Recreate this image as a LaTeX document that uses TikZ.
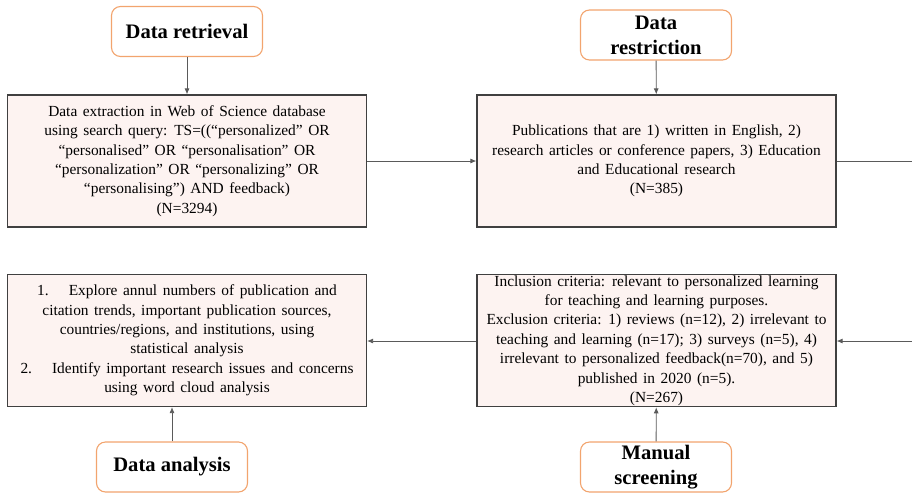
\documentclass[tikz,border=0pt]{standalone}
\usepackage{fontspec}
\setmainfont{Liberation Serif}
\usetikzlibrary{arrows.meta}
\definecolor{boxfill}{HTML}{FDF3F1}
\definecolor{boxline}{HTML}{404040}
\definecolor{stageline}{HTML}{F2A46E}
\definecolor{linkline}{HTML}{5A5A5A}
\newcommand\boxfont{\fontsize{15.4}{19.4}\selectfont
  \spaceskip=0.36em plus 0.1em minus 0.05em\relax}
\tikzset{
  stagebox/.style={draw=stageline,line width=1.1pt,rounded corners=9pt,fill=white,
    minimum width=151pt,minimum height=50pt,align=center,inner sep=2pt,
    font=\fontsize{20.6}{25}\selectfont\bfseries},
  infobox/.style={draw=boxline,line width=1.2pt,fill=boxfill,
    minimum width=359pt,minimum height=132pt,align=center,inner sep=1pt,
    font=\boxfont},
  link/.style={draw=linkline,line width=0.8pt,-{Latex[length=6pt,width=5pt]}}
}
\begin{document}
\begin{tikzpicture}[x=1pt,y=-1pt]
  \useasboundingbox (0,0) rectangle (912,493);
  \draw
    (187,31.5) node[stagebox] (retrieval){Data retrieval}
    (656,35) node[stagebox] (restriction){Data\\restriction}
    (172,467) node[stagebox] (analysis){Data analysis}
    (656,467) node[stagebox] (screening){Manual\\screening};
  \draw
    (187,161) node[infobox] (extract){Data extraction in Web of Science database\\
      using search query: TS=((“personalized” OR\\
      “personalised” OR “personalisation” OR\\
      “personalization” OR “personalizing” OR\\
      “personalising”) AND feedback)\\
      (N=3294)}
    (656.5,161) node[infobox] (restrict){Publications that are 1) written in English, 2)\\
      research articles or conference papers, 3) Education\\
      and Educational research\\
      (N=385)}
    (656.5,340.5) node[infobox] (screen){Inclusion criteria: relevant to personalized learning\\
      for teaching and learning purposes.\\
      Exclusion criteria: 1) reviews (n=12), 2) irrelevant to\\
      teaching and learning (n=17); 3) surveys (n=5), 4)\\
      irrelevant to personalized feedback(n=70), and 5)\\
      published in 2020 (n=5).\\
      (N=267)}
    (187,340.5) node[infobox] (analyse){1.\hspace{1.3em}Explore annul numbers of publication and\\
      citation trends, important publication sources,\\
      countries/regions, and institutions, using\\
      statistical analysis\\
      2.\hspace{1.3em}Identify important research issues and concerns\\
      using word cloud analysis};
  \coordinate (edgetop) at (912,161);
  \coordinate (edgebot) at (912,341);
  \begin{scope}[link]
    \draw (retrieval) -- (extract);
    \draw (restriction) -- (restrict);
    \draw (extract) -- (restrict);
    \draw[-] (restrict) -- (edgetop);
    \draw (edgebot) -- (screen.east |- edgebot);
    \draw (screening) -- (screen);
    \draw (screen.west |- edgebot) -- (analyse.east |- edgebot);
    \draw (analysis.north) -- (analysis.north |- analyse.south);
  \end{scope}
\end{tikzpicture}
\end{document}
